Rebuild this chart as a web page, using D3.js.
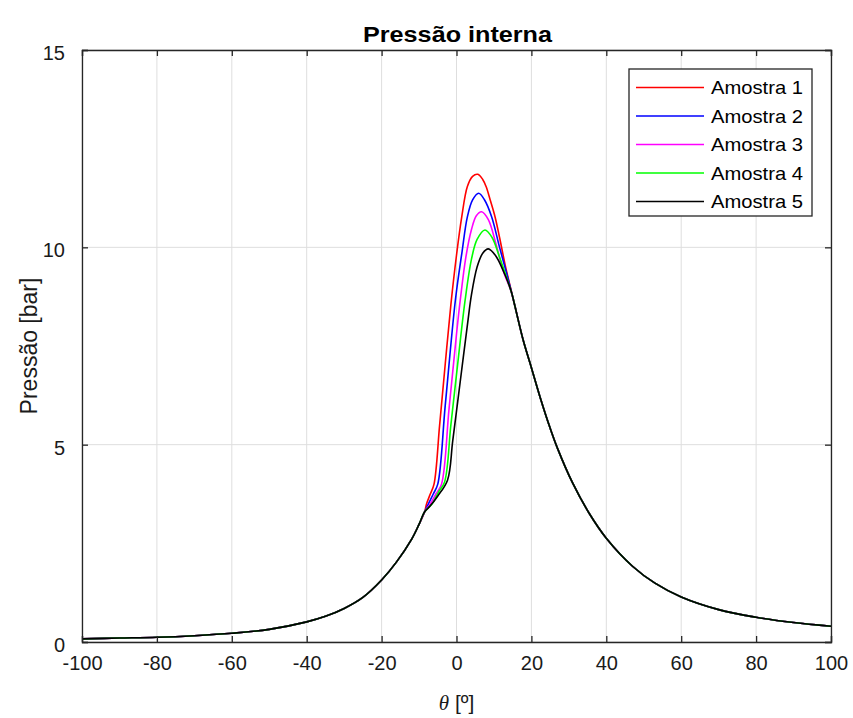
<!DOCTYPE html>
<html>
<head>
<meta charset="utf-8">
<script src="https://cdn.jsdelivr.net/npm/d3@7/dist/d3.min.js"></script>
<style>
  html, body { margin: 0; padding: 0; background: #ffffff; }
  svg { display: block; font-family: "Liberation Sans", Arial, sans-serif; }
</style>
</head>
<body>
<svg id="chart" width="853" height="718"></svg>
<script>
// Crank angle θ [º] and in-cylinder pressure [bar]

// Compression stroke, shared by all samples
const compressionTheta = [-100, -90, -80, -70, -60, -50, -40, -35, -30, -25, -20, -16, -12, -10, -8.5];
const compressionP     = [0.08, 0.10, 0.12, 0.16, 0.22, 0.32, 0.51, 0.65, 0.85, 1.13, 1.57, 2.03, 2.6, 2.98, 3.3];

// Expansion stroke, shared by all samples
const expansionTheta = [15.5, 17.8, 20, 22.3, 25, 27, 31, 35.5, 40, 47, 53, 60, 70, 80, 90, 100];
const expansionP     = [8.55, 7.65, 6.95, 6.21, 5.42, 4.9, 4.03, 3.25, 2.63, 1.92, 1.49, 1.14, 0.82, 0.627, 0.493, 0.40];

// Combustion phase of each sample
const amostra1Theta = [-8, -7, -6, -4.5, -3, -1.5, 0, 1.4, 2.9, 4.3, 5.7, 7, 7.9, 9, 10.3, 11.5, 13, 14.5];
const amostra1P     = [3.5, 3.75, 4.0, 5.5, 7.05, 8.55, 9.8, 10.77, 11.54, 11.8, 11.85, 11.72, 11.54, 11.2, 10.77, 10.25, 9.55, 8.95];

const amostra2Theta = [-7.5, -6.2, -5, -3, -0.3, 1.5, 2.9, 4.3, 5.9, 7.5, 9.4, 11.5, 13.5, 15];
const amostra2P     = [3.5, 3.75, 4.0, 6.0, 8.66, 9.9, 10.77, 11.2, 11.37, 11.2, 10.77, 10.0, 9.3, 8.75];

const amostra3Theta = [-7, -5.5, -4, -2, 0, 1, 2.5, 4, 5.3, 6.7, 8.5, 10.5, 12.5, 14.5];
const amostra3P     = [3.5, 3.75, 4.0, 5.9, 7.8, 8.66, 9.75, 10.45, 10.8, 10.9, 10.7, 10.1, 9.4, 8.9];

const amostra4Theta = [-6.5, -4.8, -3.2, -1.5, 0.5, 2.3, 4, 5.5, 7.6, 9.5, 11.5, 13.5, 15];
const amostra4P     = [3.5, 3.8, 4.05, 5.5, 7.2, 8.66, 9.7, 10.2, 10.44, 10.25, 9.75, 9.2, 8.75];

const amostra5Theta = [-7, -5, -2.4, -1, 1, 3, 4, 5.5, 7, 8.5, 10.5, 12.5, 14.5];
const amostra5P     = [3.45, 3.7, 4.1, 5.1, 6.6, 8.1, 8.8, 9.5, 9.85, 9.96, 9.78, 9.4, 8.92];

const seriesNames  = ["Amostra 1", "Amostra 2", "Amostra 3", "Amostra 4", "Amostra 5"];
const seriesColors = ["#ff0000", "#0000ff", "#ff00ff", "#00ff00", "#000000"];
const seriesTheta  = [amostra1Theta, amostra2Theta, amostra3Theta, amostra4Theta, amostra5Theta];
const seriesP      = [amostra1P, amostra2P, amostra3P, amostra4P, amostra5P];

const xTicks = [-100, -80, -60, -40, -20, 0, 20, 40, 60, 80, 100];
const yTicks = [0, 5, 10, 15];

const titleText  = "Pressão interna";
const xLabelUnit = " [º]";
const yLabelText = "Pressão [bar]";

// ---- layout ----
const svg = d3.select("#chart");
const plot = { left: 82, right: 831, top: 50, bottom: 642 };

const x = d3.scaleLinear().domain([-100, 100]).range([plot.left, plot.right]);
const y = d3.scaleLinear().domain([0, 15]).range([plot.bottom, plot.top]);

const axisColor = "#262626";
const plainNumber = d => String(d);   // hyphen-minus, as in the original axis labels

// grid
const grid = svg.append("g");
grid.selectAll("line.gx").data(xTicks).join("line")
  .attr("x1", d => x(d)).attr("x2", d => x(d))
  .attr("y1", plot.top).attr("y2", plot.bottom)
  .attr("stroke", "#dedede").attr("stroke-width", 1);
grid.selectAll("line.gy").data(yTicks).join("line")
  .attr("x1", plot.left).attr("x2", plot.right)
  .attr("y1", d => y(d)).attr("y2", d => y(d))
  .attr("stroke", "#dedede").attr("stroke-width", 1);

// series
const line = d3.line()
  .x(d => x(d[0])).y(d => y(d[1]))
  .curve(d3.curveCatmullRom.alpha(0.5));

function buildSeries(i) {
  const pts = [];
  compressionTheta.forEach((t, k) => pts.push([t, compressionP[k]]));
  seriesTheta[i].forEach((t, k) => pts.push([t, seriesP[i][k]]));
  expansionTheta.forEach((t, k) => pts.push([t, expansionP[k]]));
  return pts;
}

const curves = svg.append("g");
seriesNames.forEach((name, i) => {
  curves.append("path")
    .datum(buildSeries(i))
    .attr("fill", "none")
    .attr("stroke", seriesColors[i])
    .attr("stroke-width", 1.6)
    .attr("stroke-linejoin", "round")
    .attr("d", line);
});

// axes (ticks pointing inward, box on all sides)
const tickLen = 6;
const gx = svg.append("g").attr("transform", `translate(0,${plot.bottom})`)
  .call(d3.axisBottom(x).tickValues(xTicks).tickSize(-tickLen).tickPadding(14).tickFormat(plainNumber));
const gxTop = svg.append("g").attr("transform", `translate(0,${plot.top})`)
  .call(d3.axisTop(x).tickValues(xTicks).tickSize(-tickLen).tickFormat(""));
const gy = svg.append("g").attr("transform", `translate(${plot.left},0)`)
  .call(d3.axisLeft(y).tickValues(yTicks).tickSize(-tickLen).tickPadding(17).tickFormat(plainNumber));
const gyRight = svg.append("g").attr("transform", `translate(${plot.right},0)`)
  .call(d3.axisRight(y).tickValues(yTicks).tickSize(-tickLen).tickFormat(""));

[gx, gxTop, gy, gyRight].forEach(g => {
  g.select(".domain").attr("stroke", axisColor).attr("stroke-width", 1.3);
  g.selectAll(".tick line").attr("stroke", axisColor).attr("stroke-width", 1.3);
  g.selectAll(".tick text").attr("fill", "#1a1a1a").style("font-size", "20px")
    .style("font-family", '"Liberation Sans", Arial, sans-serif');
});
gx.selectAll(".tick text").attr("dy", "0.71em");
gy.selectAll(".tick text").attr("dy", "0.38em").attr("y", 2);

// title
svg.append("text")
  .attr("x", (plot.left + plot.right) / 2 + 1).attr("y", 42)
  .attr("text-anchor", "middle")
  .style("font-size", "22px").style("font-weight", "bold").attr("fill", "#000")
  .attr("textLength", 189).attr("lengthAdjust", "spacingAndGlyphs")
  .text(titleText);

// x label: italic theta followed by the unit
const xl = svg.append("text")
  .attr("x", (plot.left + plot.right) / 2).attr("y", 710)
  .attr("text-anchor", "middle")
  .style("font-size", "21px").attr("fill", "#1a1a1a");
xl.append("tspan").style("font-family", '"Liberation Serif", "Times New Roman", serif')
  .style("font-style", "italic").text("θ");
xl.append("tspan").text(xLabelUnit);

// y label
svg.append("text")
  .attr("transform", `translate(37,${(plot.top + plot.bottom) / 2}) rotate(-90)`)
  .attr("text-anchor", "middle")
  .style("font-size", "23px").attr("fill", "#1a1a1a")
  .text(yLabelText);

// legend
const legend = { x0: 629, y0: 69, w: 183, h: 147, rowY0: 87.5, rowStep: 28.5 };
const lg = svg.append("g");
lg.append("rect")
  .attr("x", legend.x0).attr("y", legend.y0)
  .attr("width", legend.w).attr("height", legend.h)
  .attr("fill", "#ffffff").attr("stroke", axisColor).attr("stroke-width", 1.3);
seriesNames.forEach((name, i) => {
  const ry = legend.rowY0 + i * legend.rowStep;
  lg.append("line")
    .attr("x1", 636).attr("x2", 704).attr("y1", ry).attr("y2", ry)
    .attr("stroke", seriesColors[i]).attr("stroke-width", 1.6);
  lg.append("text")
    .attr("x", 711).attr("y", ry).attr("dy", "0.36em")
    .style("font-size", "19px").attr("fill", "#000")
    .attr("textLength", 92).attr("lengthAdjust", "spacingAndGlyphs")
    .text(name);
});
</script>
</body>
</html>
